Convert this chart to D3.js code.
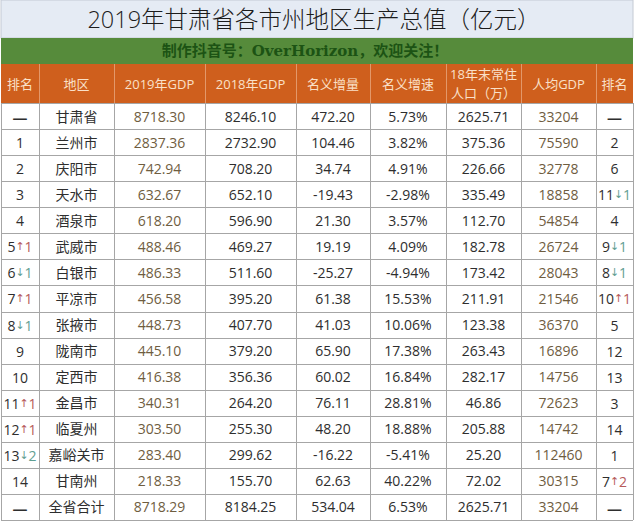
<!DOCTYPE html>
<html>
<head>
<meta charset="utf-8">
<script src="https://cdn.jsdelivr.net/npm/d3@7"></script>
<style>
body { margin: 0; background: #fff; }
svg text { font-family: "Open Sans", "Noto Sans CJK SC", "Noto Sans", sans-serif; }
svg text.cjk { font-family: "Noto Sans CJK SC", "Noto Sans", sans-serif; }
svg text.serif { font-family: "DejaVu Serif", "Noto Sans CJK SC", serif; }
</style>
</head>
<body>
<div id="table"></div>
<script>
// table data
var ranks = ["—","1","2","3","4","5","6","7","8","9","10","11","12","13","14","—"];
var rankMoves = ["","","","","","↑1","↓1","↑1","↓1","","","↑1","↑1","↓2","",""];
var regions = ["甘肃省","兰州市","庆阳市","天水市","酒泉市","武威市","白银市","平凉市","张掖市","陇南市","定西市","金昌市","临夏州","嘉峪关市","甘南州","全省合计"];
var gdp2019 = [8718.30, 2837.36, 742.94, 632.67, 618.20, 488.46, 486.33, 456.58, 448.73, 445.10, 416.38, 340.31, 303.50, 283.40, 218.33, 8718.29];
var gdp2018 = [8246.10, 2732.90, 708.20, 652.10, 596.90, 469.27, 511.60, 395.20, 407.70, 379.20, 356.36, 264.20, 255.30, 299.62, 155.70, 8184.25];
var increase = [472.20, 104.46, 34.74, -19.43, 21.30, 19.19, -25.27, 61.38, 41.03, 65.90, 60.02, 76.11, 48.20, -16.22, 62.63, 534.04];
var growth = [5.73, 3.82, 4.91, -2.98, 3.57, 4.09, -4.94, 15.53, 10.06, 17.38, 16.84, 28.81, 18.88, -5.41, 40.22, 6.53];
var population = [2625.71, 375.36, 226.66, 335.49, 112.70, 182.78, 173.42, 211.91, 123.38, 263.43, 282.17, 46.86, 205.88, 25.20, 72.02, 2625.71];
var perCapita = [33204, 75590, 32778, 18858, 54854, 26724, 28043, 21546, 36370, 16896, 14756, 72623, 14742, 112460, 30315, 33204];
var perCapitaRanks = ["—","2","6","11","4","9","8","10","5","12","13","3","14","1","7","—"];
var perCapitaMoves = ["","","","↓1","","↓1","↓1","↑1","","","","","","","↑2",""];

var headers = ["排名","地区","2019年GDP","2018年GDP","名义增量","名义增速","18年末常住|人口（万）","人均GDP","排名"];
var colKeys = ["rank","region","gdp2019","gdp2018","increase","growth","population","perCapita","pcRank"];
var colEdges = [1, 39, 114, 205, 296, 370, 446, 521, 596, 633];

var title = "2019年甘肃省各市州地区生产总值（亿元）";
var subtitle = "制作抖音号：OverHorizon，欢迎关注！";

var w = 637, h = 524;

var svg = d3.select("#table").append("svg")
	.attr("width", w)
	.attr("height", h);

// column x positions
var xLeft = d3.scaleOrdinal().domain(colKeys).range(colEdges.slice(0, -1));
var xRight = d3.scaleOrdinal().domain(colKeys).range(colEdges.slice(1));
function xMid(k) { return (xLeft(k) + xRight(k)) / 2; }

// row positions
var y = d3.scaleBand().domain(d3.range(regions.length)).range([103, 520]);

// plain hyphen for negatives, like the picture
var f2 = d3.formatLocale({ decimal: ".", thousands: ",", grouping: [3], currency: ["", ""], minus: "-" }).format(".2f");

// title band
svg.append("rect").attr("x", colEdges[0]).attr("y", 0)
	.attr("width", colEdges[9] - colEdges[0]).attr("height", 38)
	.attr("fill", "#e5ebf4").attr("stroke", "#c4cad4");
svg.append("text").text(title)
	.attr("x", 314).attr("y", 19)
	.attr("text-anchor", "middle").attr("dominant-baseline", "central")
	.attr("font-size", 23.5).attr("font-weight", 300).attr("fill", "#1c1c1c");

// green band
svg.append("rect").attr("x", colEdges[0]).attr("y", 38)
	.attr("width", colEdges[9] - colEdges[0]).attr("height", 26)
	.attr("fill", "#568b3b");
svg.append("text").text(subtitle)
	.attr("class", "serif")
	.attr("x", 305).attr("y", 51)
	.attr("text-anchor", "middle").attr("dominant-baseline", "central")
	.attr("font-size", 15).attr("font-weight", "bold").attr("fill", "#1c5314");

// header row
svg.append("rect").attr("x", colEdges[0]).attr("y", 64)
	.attr("width", colEdges[9] - colEdges[0]).attr("height", 39)
	.attr("fill", "#cf5f1d");

colKeys.forEach(function(k, i) {
	var lines = headers[i].split("|");
	lines.forEach(function(line, j) {
		svg.append("text").text(line)
			.attr("x", xMid(k))
			.attr("y", lines.length > 1 ? 74 + j * 19 : 84)
			.attr("text-anchor", "middle").attr("dominant-baseline", "central")
			.attr("font-size", 13).attr("fill", "#fae0c8");
	});
	if (i > 0) {
		svg.append("line")
			.attr("x1", xLeft(k) + 0.5).attr("x2", xLeft(k) + 0.5)
			.attr("y1", 64).attr("y2", 103)
			.attr("stroke", "#e3986a");
	}
});

// body grid
var body = svg.append("g");
body.selectAll("line.row")
	.data(d3.range(regions.length + 1))
	.enter().append("line")
	.attr("class", "row")
	.attr("x1", colEdges[0]).attr("x2", colEdges[9])
	.attr("y1", function(d) { return Math.round(y(0) + d * y.step()) + 0.5; })
	.attr("y2", function(d) { return Math.round(y(0) + d * y.step()) + 0.5; })
	.attr("stroke", "#a6a6a6");

body.selectAll("line.col")
	.data(colEdges)
	.enter().append("line")
	.attr("class", "col")
	.attr("x1", function(d) { return d + 0.5; }).attr("x2", function(d) { return d + 0.5; })
	.attr("y1", 103).attr("y2", 520)
	.attr("stroke", "#a6a6a6");

var dark = "#2e2e2e";
var brown = "#6f5d3f";

function cellText(k, i, txt, color) {
	body.append("text").text(txt)
		.attr("x", xMid(k))
		.attr("y", y(i) + y.bandwidth() / 2)
		.attr("text-anchor", "middle").attr("dominant-baseline", "central")
		.attr("font-size", 14).attr("fill", color);
}

function rankText(k, i, r, move) {
	var t = body.append("text")
		.attr("x", xMid(k))
		.attr("y", y(i) + y.bandwidth() / 2)
		.attr("text-anchor", "middle").attr("dominant-baseline", "central")
		.attr("font-size", 14).attr("fill", dark);
	if (r === "—") {
		// long bold dash for the total rows
		t.attr("class", "cjk").attr("font-weight", "bold").attr("font-size", 17);
	}
	t.append("tspan").text(r);
	if (move) {
		var c = move[0] === "↑" ? "#b65a5a" : "#5f9e92";
		t.append("tspan").text(move[0])
			.style("font-family", "'DejaVu Sans', sans-serif")
			.attr("font-size", 11).attr("fill", c);
		t.append("tspan").text(move.slice(1)).attr("fill", c);
	}
}

regions.forEach(function(name, i) {
	rankText("rank", i, ranks[i], rankMoves[i]);
	cellText("region", i, name, dark);
	cellText("gdp2019", i, f2(gdp2019[i]), brown);
	cellText("gdp2018", i, f2(gdp2018[i]), dark);
	cellText("increase", i, f2(increase[i]), dark);
	cellText("growth", i, f2(growth[i]) + "%", dark);
	cellText("population", i, f2(population[i]), dark);
	cellText("perCapita", i, perCapita[i], brown);
	rankText("pcRank", i, perCapitaRanks[i], perCapitaMoves[i]);
});
</script>
</body>
</html>
